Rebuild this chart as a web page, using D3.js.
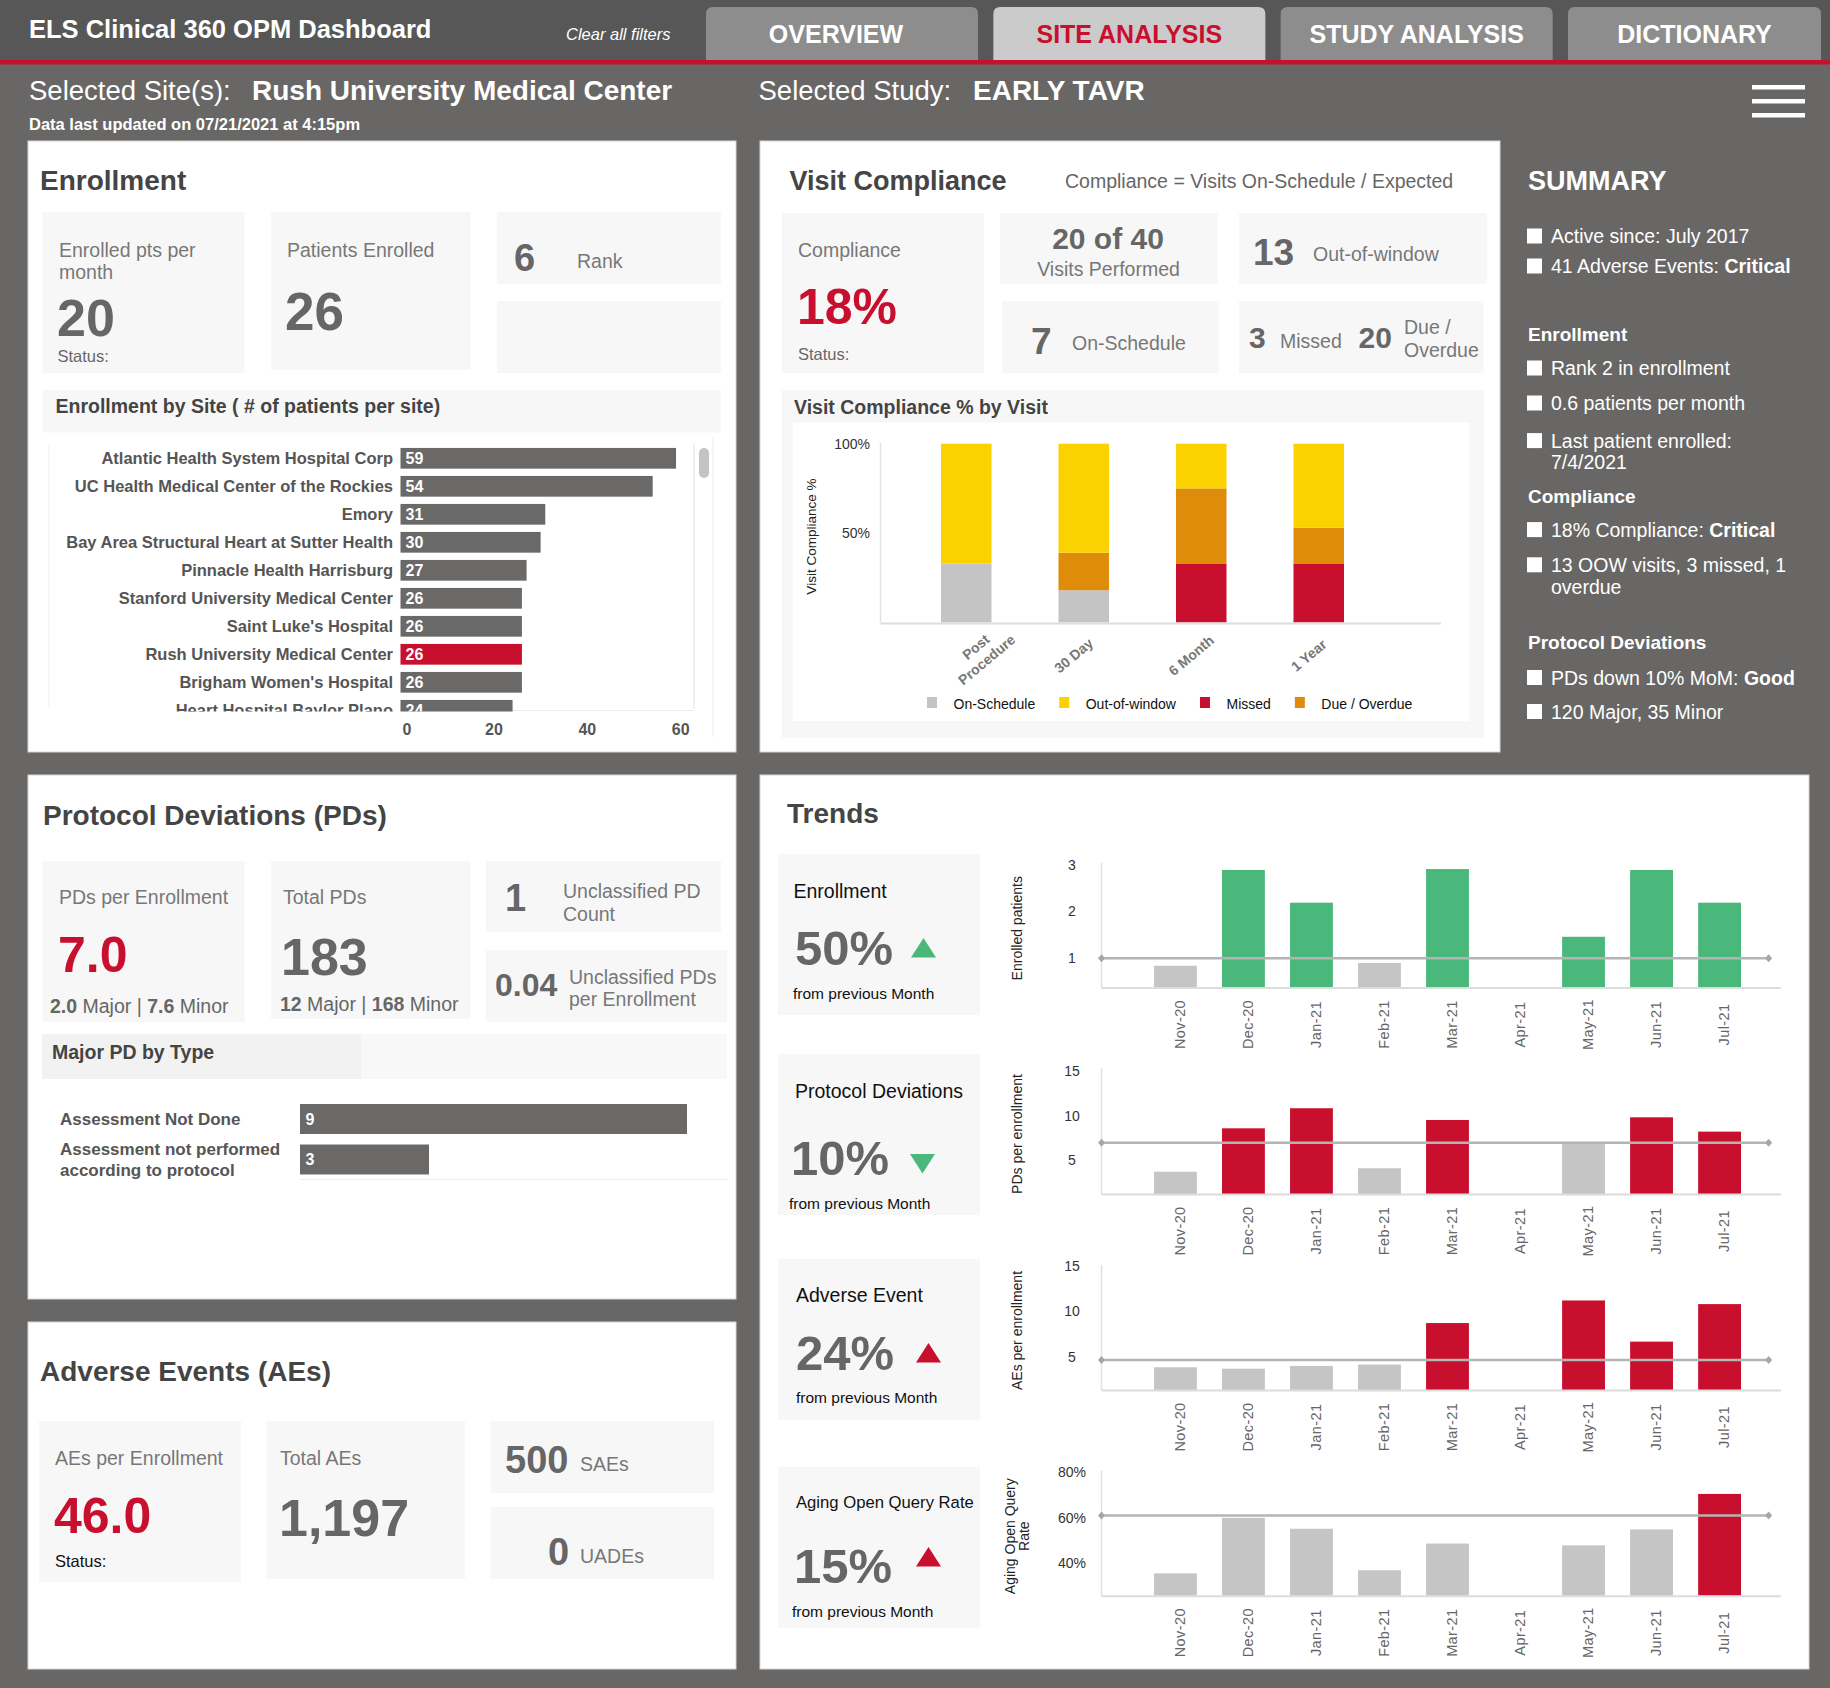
<!DOCTYPE html>
<html>
<head>
<meta charset="utf-8">
<title>ELS Clinical 360 OPM Dashboard</title>
<script src="https://cdn.jsdelivr.net/npm/d3@7/dist/d3.min.js"></script>
<style>
html,body{margin:0;padding:0;background:#686766;}
svg{display:block;}
</style>
</head>
<body>
<script>
// ---------------- DATA ----------------
const dashboardTitle = "ELS Clinical 360 OPM Dashboard";
const tabNames = ["OVERVIEW", "SITE ANALYSIS", "STUDY ANALYSIS", "DICTIONARY"];
const activeTab = "SITE ANALYSIS";
const selectedSite = "Rush University Medical Center";
const selectedStudy = "EARLY TAVR";
const lastUpdated = "Data last updated on 07/21/2021 at 4:15pm";

const siteNames = ["Atlantic Health System Hospital Corp", "UC Health Medical Center of the Rockies", "Emory",
  "Bay Area Structural Heart at Sutter Health", "Pinnacle Health Harrisburg", "Stanford University Medical Center",
  "Saint Luke's Hospital", "Rush University Medical Center", "Brigham Women's Hospital", "Heart Hospital Baylor Plano"];
const siteEnrollment = [59, 54, 31, 30, 27, 26, 26, 26, 26, 24];
const siteTicks = [0, 20, 40, 60];

const visitNames = ["Post Procedure", "30 Day", "6 Month", "1 Year"];
const visitOnSchedule = [33, 18, 0, 0];
const visitMissed = [0, 0, 33, 33];
const visitDueOverdue = [0, 21, 42, 20];
const visitOutOfWindow = [67, 61, 25, 47];
const visitLegend = ["On-Schedule", "Out-of-window", "Missed", "Due / Overdue"];
const visitTicks = [50, 100];

const pdTypeNames = ["Assessment Not Done", "Assessment not performed according to protocol"];
const pdTypeCounts = [9, 3];

const trendMonths = ["Nov-20", "Dec-20", "Jan-21", "Feb-21", "Mar-21", "Apr-21", "May-21", "Jun-21", "Jul-21"];
const trendEnrollment = [0.84, 2.89, 2.19, 0.9, 2.91, null, 1.46, 2.89, 2.19];
const trendPDs = [3.76, 8.6, 10.84, 4.14, 9.53, null, 7.0, 9.83, 8.23];
const trendAEs = [3.9, 3.75, 4.05, 4.2, 8.73, null, 11.2, 6.7, 10.8];
const trendQueries = [35.6, 60, 55.2, 37, 48.7, null, 47.9, 54.9, 70.5];
const trendRefs = [1, 7, 4.7, 61];
const trendTicks = [[1, 2, 3], [5, 10, 15], [5, 10, 15], [40, 60, 80]];
const trendTitles = ["Enrollment", "Protocol Deviations", "Adverse Event", "Aging Open Query Rate"];
const trendAxisTitles = ["Enrolled patients", "PDs per enrollment", "AEs per enrollment", "Aging Open Query Rate"];
const trendChanges = ["50%", "10%", "24%", "15%"];
const trendDirections = ["up", "down", "up", "up"];
const trendGood = [true, true, false, false];

const summaryRows = [
  {kind: "item", parts: [["Active since: July 2017", 0]]},
  {kind: "item", parts: [["41 Adverse Events: ", 0], ["Critical", 1]]},
  {kind: "head", parts: [["Enrollment", 1]]},
  {kind: "item", parts: [["Rank 2 in enrollment", 0]]},
  {kind: "item", parts: [["0.6 patients per month", 0]]},
  {kind: "item", parts: [["Last patient enrolled: 7/4/2021", 0]]},
  {kind: "head", parts: [["Compliance", 1]]},
  {kind: "item", parts: [["18% Compliance: ", 0], ["Critical", 1]]},
  {kind: "item", parts: [["13 OOW visits, 3 missed, 1 overdue", 0]]},
  {kind: "head", parts: [["Protocol Deviations", 1]]},
  {kind: "item", parts: [["PDs down 10% MoM: ", 0], ["Good", 1]]},
  {kind: "item", parts: [["120 Major, 35 Minor", 0]]}
];

// ---------------- LAYOUT / STYLE ----------------
const W = 1830, H = 1688;
const FONT = '"Liberation Sans", Arial, Helvetica, sans-serif';
const RED = "#c8102e", GREEN = "#4bb87b", LGRAY = "#c5c5c5", DBAR = "#6a6968";
const KPI_BG = "#f7f7f7", TITLE = "#444", LBL = "#777", NUM = "#666";
const summaryRowY = [243, 273, 340.5, 375, 410, 447.6, 502.6, 536.6, 571.8, 649, 684.5, 718.5];

const svg = d3.select("body").append("svg").attr("width", W).attr("height", H).attr("font-family", FONT);
svg.append("rect").attr("width", W).attr("height", H).attr("fill", "#686766");

const meas = svg.append("text").attr("x", 100).attr("y", 100).attr("opacity", 0);
function textWidth(s, size, bold) {
  meas.attr("font-size", size).attr("font-weight", bold ? 700 : 400).text(s);
  return meas.node().getComputedTextLength();
}
function wrap(s, maxW, size, bold) {
  const words = s.split(" "); const lines = []; let cur = "";
  words.forEach(w => {
    const t = cur ? cur + " " + w : w;
    if (cur && textWidth(t, size, bold) > maxW) { lines.push(cur); cur = w; } else cur = t;
  });
  if (cur) lines.push(cur);
  return lines;
}
function rect(g, x, y, w, h, fill, stroke) {
  const r = g.append("rect").attr("x", x).attr("y", y).attr("width", w).attr("height", h).attr("fill", fill);
  if (stroke) r.attr("stroke", stroke).attr("stroke-width", 1);
  return r;
}
function label(g, x, y, s, size, o = {}) {
  const t = g.append("text").attr("x", x).attr("y", y).attr("font-size", size).attr("fill", o.fill || LBL).text(s);
  if (o.bold) t.attr("font-weight", 700);
  if (o.anchor) t.attr("text-anchor", o.anchor);
  if (o.italic) t.attr("font-style", "italic");
  if (o.dy) t.attr("dy", o.dy);
  return t;
}
function rich(g, x, y, parts, size, fill) {
  const t = g.append("text").attr("x", x).attr("y", y).attr("font-size", size).attr("fill", fill).style("white-space", "pre");
  parts.forEach(p => t.append("tspan").attr("font-weight", p[1] ? 700 : 400).text(p[0]));
  return t;
}
function panel(x, y, w, h) { return rect(svg, x, y, w, h, "#fff", "#d6d6d6"); }
function kpi(x, y, w, h, fill) { return rect(svg, x, y, w, h, fill || KPI_BG); }

// ---------------- HEADER ----------------
rect(svg, 0, 0, W, 60, "#575757");
rect(svg, 0, 60, W, 4.5, RED);
label(svg, 29, 38, dashboardTitle, 25.5, {bold: 1, fill: "#fff"});
label(svg, 566, 40, "Clear all filters", 16.5, {italic: 1, fill: "#fff"});

const tabX = d3.scaleBand().domain(tabNames).range([706, 1840]).paddingInner(0.0533);
const tabRight = 1821;
tabNames.forEach(t => {
  const x0 = tabX(t), x1 = Math.min(x0 + tabX.bandwidth(), tabRight), y0 = 7, y1 = 60, r = 7;
  svg.append("path")
    .attr("d", `M${x0},${y1}V${y0 + r}Q${x0},${y0} ${x0 + r},${y0}H${x1 - r}Q${x1},${y0} ${x1},${y0 + r}V${y1}Z`)
    .attr("fill", t === activeTab ? "#cbcbcb" : "#8d8d8d");
  label(svg, (x0 + x1) / 2 - (t === "OVERVIEW" ? 6 : 0), 43, t, 25, {bold: 1, anchor: "middle", fill: t === activeTab ? RED : "#fff"});
});

label(svg, 29, 100, "Selected Site(s):", 27.5, {fill: "#fff"});
label(svg, 252, 100, selectedSite, 28, {bold: 1, fill: "#fff"});
label(svg, 758.5, 100, "Selected Study:", 27.5, {fill: "#fff"});
label(svg, 973, 100, selectedStudy, 28, {bold: 1, fill: "#fff"});
label(svg, 29, 129.5, lastUpdated, 16.5, {bold: 1, fill: "#fff"});
[85, 99, 113].forEach(y => rect(svg, 1752, y, 53, 4.5, "#fff"));

// ---------------- ENROLLMENT PANEL ----------------
panel(28, 141, 708, 611);
label(svg, 40, 189.5, "Enrollment", 28, {bold: 1, fill: TITLE});
kpi(42.5, 212, 202, 161); kpi(271, 212, 199.5, 158); kpi(497, 212, 224, 72); kpi(497, 301, 224, 72);
label(svg, 59, 256.5, "Enrolled pts per", 19.5);
label(svg, 59, 279, "month", 19.5);
label(svg, 57, 335.5, "20", 52, {bold: 1, fill: NUM});
label(svg, 57.5, 361.5, "Status:", 16.5, {fill: NUM});
label(svg, 287, 256.5, "Patients Enrolled", 19.5);
label(svg, 285, 330, "26", 53, {bold: 1, fill: NUM});
label(svg, 514, 271, "6", 38, {bold: 1, fill: NUM});
label(svg, 577, 267.5, "Rank", 19.5);
kpi(42.5, 390, 678.5, 42.5);
label(svg, 55.5, 413, "Enrollment by Site ( # of patients per site)", 19.5, {bold: 1, fill: TITLE});

(function siteChart() {
  const g = svg.append("g");
  const x = d3.scaleLinear().domain([0, 60]).range([400.5, 680.7]);
  const y = d3.scaleBand().domain(siteNames).range([444.3, 724.3]).paddingInner(0.26).paddingOuter(0.13);
  g.append("line").attr("x1", 49).attr("x2", 49).attr("y1", 444).attr("y2", 709).attr("stroke", "#f0f0f0");
  g.append("line").attr("x1", 694).attr("x2", 694).attr("y1", 444).attr("y2", 709).attr("stroke", "#e2e2e2");
  g.append("line").attr("x1", 713).attr("x2", 713).attr("y1", 437).attr("y2", 737).attr("stroke", "#ececec");
  g.append("line").attr("x1", 400.5).attr("x2", 694).attr("y1", 710.5).attr("y2", 710.5).attr("stroke", "#ececec");
  g.append("rect").attr("x", 699).attr("y", 448).attr("width", 10).attr("height", 30).attr("rx", 5).attr("fill", "#c4c4c4");
  svg.append("clipPath").attr("id", "siteClip").append("rect").attr("x", 40).attr("y", 437).attr("width", 660).attr("height", 274.5);
  const gc = g.append("g").attr("clip-path", "url(#siteClip)");
  siteNames.forEach((s, i) => {
    const yc = y(s) + y.bandwidth() / 2;
    gc.append("rect").attr("x", x(0)).attr("y", y(s)).attr("width", x(siteEnrollment[i]) - x(0)).attr("height", y.bandwidth())
      .attr("fill", s === selectedSite ? RED : DBAR);
    label(gc, 393, yc, s, 16.5, {bold: 1, fill: "#555", anchor: "end", dy: "0.35em"});
    label(gc, x(0) + 5, yc, siteEnrollment[i], 16, {bold: 1, fill: "#fff", dy: "0.36em"});
  });
  siteTicks.forEach(t => label(g, t === 0 ? x(t) + 2 : x(t), 735, t, 16, {bold: 1, fill: "#555", anchor: t === 0 ? "start" : "middle"}));
})();

// ---------------- VISIT COMPLIANCE PANEL ----------------
panel(760, 141, 740, 611);
label(svg, 789.5, 189.5, "Visit Compliance", 27, {bold: 1, fill: TITLE});
label(svg, 1065, 187.5, "Compliance = Visits On-Schedule / Expected", 19.5, {fill: NUM});
kpi(782, 213, 202, 160); kpi(1000, 213, 217.5, 70.5); kpi(1239, 213, 248, 70.5); kpi(1002, 301, 217, 72); kpi(1239, 301, 244.5, 72);
label(svg, 798, 256.5, "Compliance", 19.5);
label(svg, 797, 324, "18%", 50, {bold: 1, fill: RED});
label(svg, 798, 359.5, "Status:", 16.5, {fill: NUM});
label(svg, 1108, 248.7, "20 of 40", 30, {bold: 1, fill: NUM, anchor: "middle"});
label(svg, 1108.5, 276.4, "Visits Performed", 19.5, {anchor: "middle"});
label(svg, 1253, 264.6, "13", 37, {bold: 1, fill: NUM});
label(svg, 1313, 260.6, "Out-of-window", 19.5);
label(svg, 1031, 353.5, "7", 37, {bold: 1, fill: NUM});
label(svg, 1072, 349.6, "On-Schedule", 19.5);
label(svg, 1249, 347.6, "3", 30, {bold: 1, fill: NUM});
label(svg, 1280, 347.6, "Missed", 19.5);
label(svg, 1358.6, 347.6, "20", 30, {bold: 1, fill: NUM});
label(svg, 1404, 333.7, "Due /", 19.5);
label(svg, 1404, 356.7, "Overdue", 19.5);
kpi(782, 390, 702, 348);
label(svg, 794, 413.6, "Visit Compliance % by Visit", 19.5, {bold: 1, fill: TITLE});
rect(svg, 793, 422.7, 676, 298.3, "#fff");

(function visitChart() {
  const g = svg.append("g");
  const base = 622.4;
  const y = d3.scaleLinear().domain([0, 100]).range([base, 443.7]);
  const x = d3.scaleBand().domain(visitNames).range([941, 1344]).paddingInner(0.57).paddingOuter(0);
  const rows = visitNames.map((v, i) => ({name: v, on: visitOnSchedule[i], missed: visitMissed[i], due: visitDueOverdue[i], oow: visitOutOfWindow[i]}));
  const keys = ["on", "missed", "due", "oow"];
  const colors = {on: "#c4c4c4", missed: RED, due: "#e08c0b", oow: "#fbd200"};
  const stack = d3.stack().keys(keys)(rows);
  g.append("line").attr("x1", 880.5).attr("x2", 880.5).attr("y1", 443).attr("y2", base).attr("stroke", "#e2e2e2").attr("stroke-width", 1.5);
  stack.forEach(layer => {
    g.selectAll(null).data(layer).enter().append("rect")
      .attr("x", d => x(d.data.name)).attr("width", x.bandwidth())
      .attr("y", d => y(d[1])).attr("height", d => y(d[0]) - y(d[1]))
      .attr("fill", colors[layer.key]);
  });
  g.append("line").attr("x1", 880.5).attr("x2", 1441).attr("y1", base + 1).attr("y2", base + 1).attr("stroke", "#dedede").attr("stroke-width", 2);
  visitTicks.forEach(t => label(g, 870, y(t), t + "%", 14, {fill: "#333", anchor: "end", dy: "0.35em"}));
  g.append("text").attr("transform", `translate(811,536.6) rotate(-90)`).attr("text-anchor", "middle").attr("dy", "0.35em")
    .attr("font-size", 13.5).attr("fill", "#222").text("Visit Compliance %");
  visitNames.forEach(name => {
    const cx = x(name) + x.bandwidth() / 2;
    const lines = wrap(name, 80, 14, true);
    const off = lines.length > 1 ? [15, 31] : [-10, 33];
    const lg = g.append("g").attr("transform", `translate(${cx + off[0]},${base + off[1]}) rotate(-40)`);
    lines.forEach((ln, j) => label(lg, 0, (j - (lines.length - 1) / 2) * 16.8, ln, 14, {bold: 1, fill: "#777", anchor: "middle", dy: "0.35em"}));
  });
  const legendColors = [colors.on, colors.oow, colors.missed, colors.due];
  let lx = 927;
  visitLegend.forEach((s, i) => {
    rect(g, lx, 697, 10, 11, legendColors[i]);
    label(g, lx + 26.5, 708.5, s, 14, {fill: "#111"});
    lx += 26.5 + textWidth(s, 14, false) + 24;
  });
})();

// ---------------- SUMMARY ----------------
label(svg, 1528, 189.5, "SUMMARY", 27, {bold: 1, fill: "#fff"});
(function summary() {
  summaryRows.forEach((row, i) => {
    const yb = summaryRowY[i];
    if (row.kind === "head") {
      label(svg, 1528, yb, row.parts[0][0], 19, {bold: 1, fill: "#fff"});
    } else {
      rect(svg, 1527, yb - 14.5, 15, 15, "#fff");
      if (row.parts.length === 1) {
        wrap(row.parts[0][0], 250, 19.5, false).forEach((ln, j) => label(svg, 1551, yb + j * 21.7, ln, 19.5, {fill: "#fff"}));
      } else {
        rich(svg, 1551, yb, row.parts, 19.5, "#fff");
      }
    }
  });
})();

// ---------------- PROTOCOL DEVIATIONS PANEL ----------------
panel(28, 775, 708, 524);
label(svg, 43, 825, "Protocol Deviations (PDs)", 28, {bold: 1, fill: TITLE});
kpi(42.5, 861, 202, 161); kpi(271, 861, 199.5, 158); kpi(486, 861, 235, 71); kpi(486, 950, 241, 72);
label(svg, 59, 904, "PDs per Enrollment", 19.5);
label(svg, 58, 972, "7.0", 50, {bold: 1, fill: RED});
rich(svg, 50, 1013, [["2.0", 1], [" Major | ", 0], ["7.6", 1], [" Minor", 0]], 19.5, NUM);
label(svg, 283, 904, "Total PDs", 19.5);
label(svg, 281, 975, "183", 52, {bold: 1, fill: NUM});
rich(svg, 280, 1011, [["12", 1], [" Major | ", 0], ["168", 1], [" Minor", 0]], 19.5, NUM);
label(svg, 505, 911, "1", 38, {bold: 1, fill: NUM});
label(svg, 563, 898, "Unclassified PD", 19.5);
label(svg, 563, 920.5, "Count", 19.5);
label(svg, 495, 995.5, "0.04", 32, {bold: 1, fill: NUM});
label(svg, 569, 983.5, "Unclassified PDs", 19.5);
label(svg, 569, 1006, "per Enrollment", 19.5);
kpi(42, 1034, 319, 45, "#f2f2f2"); kpi(361, 1034, 366, 45, "#f8f8f8");
label(svg, 52, 1059, "Major PD by Type", 19.5, {bold: 1, fill: TITLE});

(function pdChart() {
  const g = svg.append("g");
  const x = d3.scaleLinear().domain([0, 9]).range([300, 687]);
  const y = d3.scaleBand().domain(pdTypeNames).range([1098.75, 1179.75]).paddingInner(0.26).paddingOuter(0.13);
  g.append("line").attr("x1", 300).attr("x2", 727).attr("y1", 1179.5).attr("y2", 1179.5).attr("stroke", "#ececec");
  pdTypeNames.forEach((s, i) => {
    const yc = y(s) + y.bandwidth() / 2;
    rect(g, x(0), y(s), x(pdTypeCounts[i]) - x(0), y.bandwidth(), DBAR);
    label(g, x(0) + 5.5, yc, pdTypeCounts[i], 16, {bold: 1, fill: "#fff", dy: "0.36em"});
    const lines = wrap(s, 232, 17, true);
    lines.forEach((ln, j) => label(g, 60, yc + (j - (lines.length - 1) / 2) * 21, ln, 17, {bold: 1, fill: "#555", dy: "0.35em"}));
  });
})();

// ---------------- ADVERSE EVENTS PANEL ----------------
panel(28, 1322, 708, 347);
label(svg, 40, 1381, "Adverse Events (AEs)", 28, {bold: 1, fill: TITLE});
kpi(39, 1421, 202, 161); kpi(267, 1421, 198, 158); kpi(491, 1421, 223, 72); kpi(491, 1507, 223, 72);
label(svg, 55, 1465, "AEs per Enrollment", 19.5);
label(svg, 54, 1533, "46.0", 50, {bold: 1, fill: RED});
label(svg, 55, 1567, "Status:", 16.5, {fill: "#111"});
label(svg, 280, 1465, "Total AEs", 19.5);
label(svg, 279, 1536, "1,197", 52, {bold: 1, fill: NUM});
label(svg, 505, 1473, "500", 38, {bold: 1, fill: NUM});
label(svg, 580, 1471, "SAEs", 19.5);
label(svg, 548, 1565, "0", 38, {bold: 1, fill: NUM});
label(svg, 580, 1563, "UADEs", 19.5);

// ---------------- TRENDS PANEL ----------------
panel(760, 775, 1049, 894);
label(svg, 787, 823, "Trends", 28, {bold: 1, fill: TITLE});

(function trends() {
  const series = [trendEnrollment, trendPDs, trendAEs, trendQueries];
  const hiColors = [GREEN, RED, RED, RED];
  const domains = [[0.374, 3.04], [1.27, 15.33], [1.42, 15.07], [25.8, 80.7]];
  const bases = [987.5, 1194, 1390, 1595.7];
  const tops = [863, 1068, 1265, 1470.7];
  const fmts = [d => d, d => d, d => d, d => d + "%"];
  const boxTop = [854, 1054, 1259, 1467];
  const titleDy = [44, 44, 43, 41], pctDy = [111, 121, 111, 116], fromDy = [145, 155, 144, 150], triDy = [84, 100, 84, 80];
  const titleX = [793.5, 795, 796, 796], pctX = [795, 791, 796, 794], fromX = [793, 789, 796, 792], triX = [911, 910, 916, 916];
  const axisX = 1101.5, axisEnd = 1781, refEnd = 1768.6;
  const x = d3.scaleBand().domain(trendMonths).range([1154, 1741]).paddingInner(0.37).paddingOuter(0);

  series.forEach((vals, k) => {
    const bt = boxTop[k];
    kpi(778, bt, 202, 161);
    const tSize = Math.min(19.5, 19.5 * 178 / textWidth(trendTitles[k], 19.5, false));
    label(svg, titleX[k], bt + titleDy[k], trendTitles[k], tSize, {fill: "#111"});
    label(svg, pctX[k], bt + pctDy[k], trendChanges[k], 49, {bold: 1, fill: NUM});
    label(svg, fromX[k], bt + fromDy[k], "from previous Month", 15.5, {fill: "#111"});
    const tx = triX[k], ty = bt + triDy[k], tw = 25, th = 19.5;
    const pts = trendDirections[k] === "up"
      ? [[tx, ty + th], [tx + tw / 2, ty], [tx + tw, ty + th]]
      : [[tx, ty], [tx + tw, ty], [tx + tw / 2, ty + th]];
    svg.append("polygon").attr("points", pts.map(p => p.join(",")).join(" ")).attr("fill", trendGood[k] ? GREEN : RED);

    const g = svg.append("g");
    const base = bases[k];
    const y = d3.scaleLinear().domain(domains[k]).range([base, tops[k]]);
    g.append("line").attr("x1", axisX).attr("x2", axisX).attr("y1", tops[k]).attr("y2", base).attr("stroke", "#e0e0e0").attr("stroke-width", 1.5);
    trendMonths.forEach((m, i) => {
      const v = vals[i];
      if (v != null) {
        g.append("rect").attr("x", x(m)).attr("width", x.bandwidth()).attr("y", y(v)).attr("height", base - y(v))
          .attr("fill", v > trendRefs[k] ? hiColors[k] : LGRAY);
      }
      g.append("text").attr("transform", `translate(${x(m) + x.bandwidth() / 2 + 4},${base + 37}) rotate(-90)`)
        .attr("text-anchor", "middle").attr("dy", "0.35em").attr("font-size", 14.5).attr("letter-spacing", 0.4)
        .attr("fill", "#666").text(m);
    });
    g.append("line").attr("x1", axisX).attr("x2", axisEnd).attr("y1", base + 0.5).attr("y2", base + 0.5).attr("stroke", "#dcdcdc").attr("stroke-width", 2);
    const ry = y(trendRefs[k]);
    g.append("line").attr("x1", axisX).attr("x2", refEnd).attr("y1", ry).attr("y2", ry).attr("stroke", "#b4b4b4").attr("stroke-width", 2.5);
    [axisX, refEnd].forEach(px => g.append("path").attr("d", `M${px},${ry - 4}L${px + 3.5},${ry}L${px},${ry + 4}L${px - 3.5},${ry}Z`).attr("fill", "#a6a6a6"));
    trendTicks[k].forEach(t => label(g, 1072, y(t), fmts[k](t), 14, {fill: "#333", anchor: "middle", dy: "0.35em"}));
    const lines = wrap(trendAxisTitles[k], 126, 14, false);
    const tg = g.append("g").attr("transform", `translate(1017,${(base + tops[k]) / 2 + 3}) rotate(-90)`);
    lines.forEach((ln, j) => label(tg, 0, (j - (lines.length - 1) / 2) * 14.5, ln, 14, {fill: "#222", anchor: "middle", dy: "0.35em"}));
  });
})();
meas.remove();
</script>
</body>
</html>
